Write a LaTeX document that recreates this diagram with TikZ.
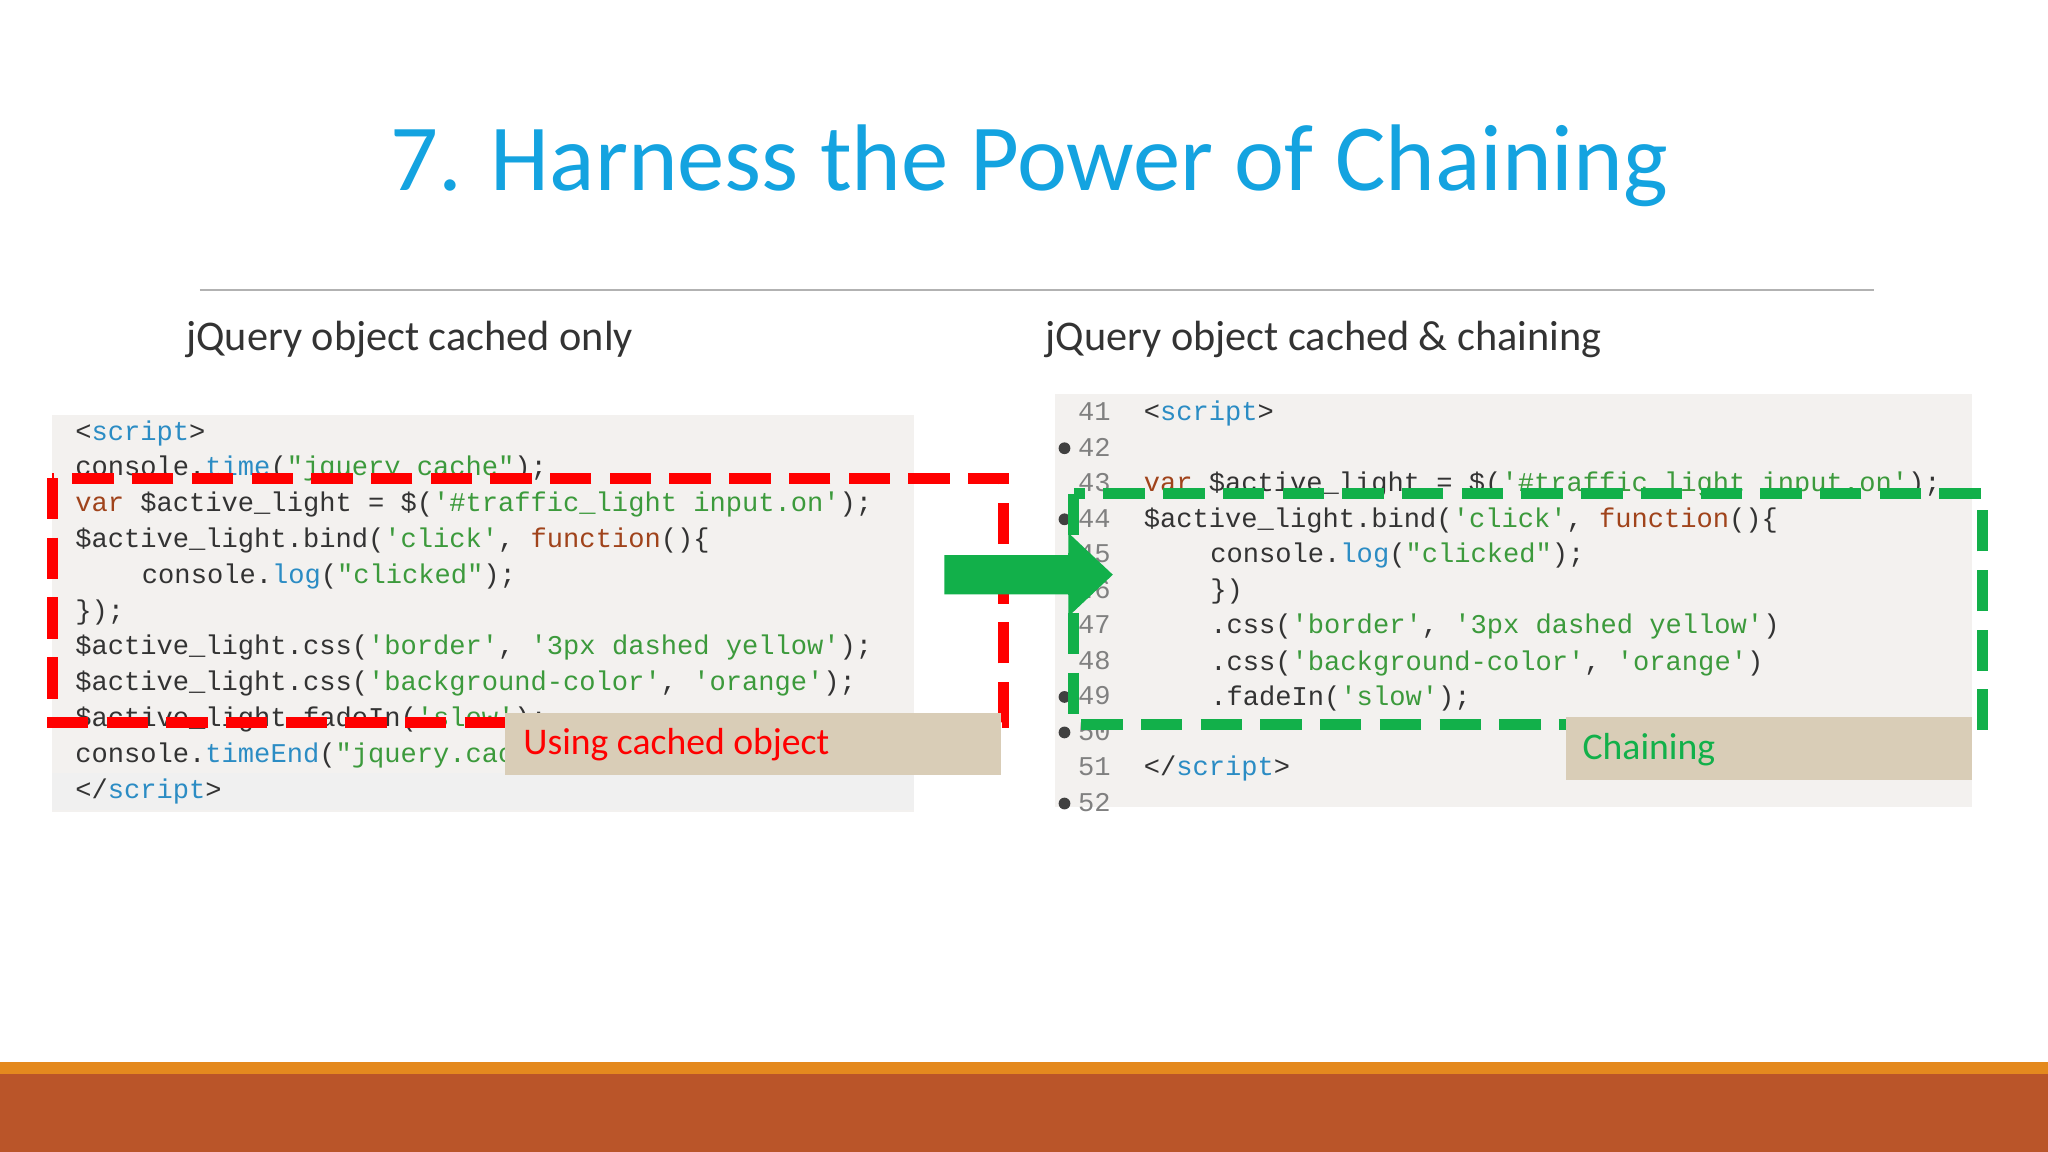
\documentclass[tikz,border=0pt]{standalone}
\usepackage{fontspec}
\setmainfont{Carlito}
\setmonofont{Liberation Mono}
\usetikzlibrary{positioning}
\definecolor{titleblue}{HTML}{14A3E0}
\definecolor{codetxt}{HTML}{333333}
\definecolor{kwblue}{HTML}{2B8CC4}
\definecolor{strgreen}{HTML}{3C9A3C}
\definecolor{kwbrown}{HTML}{A0431B}
\definecolor{tanbox}{HTML}{D9CDB7}
\definecolor{codebg}{HTML}{F3F1EF}
\definecolor{barorange}{HTML}{E4891E}
\definecolor{barrust}{HTML}{BA5529}
\definecolor{chaingreen}{HTML}{12B04A}
\newcommand{\kw}[1]{\textcolor{kwblue}{#1}}
\newcommand{\st}[1]{\textcolor{strgreen}{#1}}
\newcommand{\kb}[1]{\textcolor{kwbrown}{#1}}
\tikzset{
  codeline/.style={anchor=base west,inner sep=0pt,font=\ttfamily\fontsize{5.9}{7}\selectfont,text=codetxt},
  lineno/.style={anchor=base east,inner sep=0pt,font=\ttfamily\fontsize{5.9}{7}\selectfont,text=gray},
  subtitle/.style={anchor=base west,inner sep=0pt,font=\fontsize{9.2}{11}\selectfont,text=codetxt},
  labelbox/.style={fill=tanbox,inner sep=0pt},
  bpdot/.style={circle,fill=black!75,inner sep=0pt,minimum size=0.9mm}
}
\begin{document}
\begin{tikzpicture}[x=0.01cm,y=-0.01cm]
\useasboundingbox (0,0) rectangle (1568,882);
\fill[white] (0,0) rectangle (1568,882);
% title
\node[font=\fontsize{20.6}{24}\selectfont,text=titleblue] (title) at (788,127) {7. Harness the Power of Chaining};
\draw[gray!60,line width=0.4pt] (153,222) -- (1435,222);
\node[subtitle] (subl) at (142,268) {jQuery object cached only};
\node[subtitle] (subr) at (800,268) {jQuery object cached \& chaining};
% left code
\fill[codebg] (40,318) rectangle (700,622);
\fill[black!6] (40,592) rectangle (700,620);
\node[codeline] (l1) at (57,337) {<\kw{script}>};
\node[codeline] (l2) at (57,364) {console.\kw{time}(\st{"jquery cache"});};
\node[codeline] (l3) at (57,392) {\kb{var} \$active\_light = \$(\st{'\#traffic\_light input.on'});};
\node[codeline] (l4) at (57,419) {\$active\_light.bind(\st{'click'}, \kb{function}()\{};
\node[codeline] (l5) at (108,447) {console.\kw{log}(\st{"clicked"});};
\node[codeline] (l6) at (57,474) {\});};
\node[codeline] (l7) at (57,501) {\$active\_light.css(\st{'border'}, \st{'3px dashed yellow'});};
\node[codeline] (l8) at (57,529) {\$active\_light.css(\st{'background-color'}, \st{'orange'});};
\node[codeline] (l9) at (57,556) {\$active\_light.fadeIn(\st{'slow'});};
\node[codeline] (l10) at (57,584) {console.\kw{timeEnd}(\st{"jquery.cache"});};
\node[codeline] (l11) at (57,611) {</\kw{script}>};
\draw[red,line width=2.4pt,dash pattern=on 9pt off 4pt] (40,366) rectangle (768,553);
\node[labelbox,minimum width=3.79cm,minimum height=0.47cm] (cached) at (576.5,569.5) {};
\node[anchor=west,inner sep=0pt,font=\fontsize{8.2}{10}\selectfont,text=red] (cachedtxt) at (400,570) {Using cached object};
% right code
\fill[codebg] (808,302) rectangle (1510,618);
\foreach \n [count=\i from 0] in {41,...,52}
  \node[lineno] (n\n) at (851,322+27.2*\i) {\n};
\foreach \n in {42,44,49,50,52}
  \node[bpdot] at (815,{316+27.2*(\n-41)}) {};
\node[codeline] (r41) at (875,322) {<\kw{script}>};
\node[codeline] (r43) at (875,376) {\kb{var} \$active\_light = \$(\st{'\#traffic\_light input.on'});};
\node[codeline] (r44) at (875,404) {\$active\_light.bind(\st{'click'}, \kb{function}()\{};
\node[codeline] (r45) at (926,431) {console.\kw{log}(\st{"clicked"});};
\node[codeline] (r46) at (926,458) {\})};
\node[codeline] (r47) at (926,485) {.css(\st{'border'}, \st{'3px dashed yellow'})};
\node[codeline] (r48) at (926,513) {.css(\st{'background-color'}, \st{'orange'})};
\node[codeline] (r49) at (926,540) {.fadeIn(\st{'slow'});};
\node[codeline] (r51) at (875,594) {</\kw{script}>};
\draw[chaingreen,line width=2.4pt,dash pattern=on 9pt off 4pt] (822,378) rectangle (1518,555);
\node[labelbox,minimum width=3.11cm,minimum height=0.48cm] (chain) at (1354.5,573) {};
\node[anchor=west,inner sep=0pt,font=\fontsize{8.2}{10}\selectfont,text=chaingreen] (chaintxt) at (1211,574) {Chaining};
% arrow
\fill[chaingreen] (723,425) -- (818,425) -- (818,408) -- (852,440) -- (818,472) -- (818,455) -- (723,455) -- cycle;
% bottom bar
\fill[barorange] (0,813) rectangle (1568,823);
\fill[barrust] (0,822) rectangle (1568,882);
\end{tikzpicture}
\end{document}
